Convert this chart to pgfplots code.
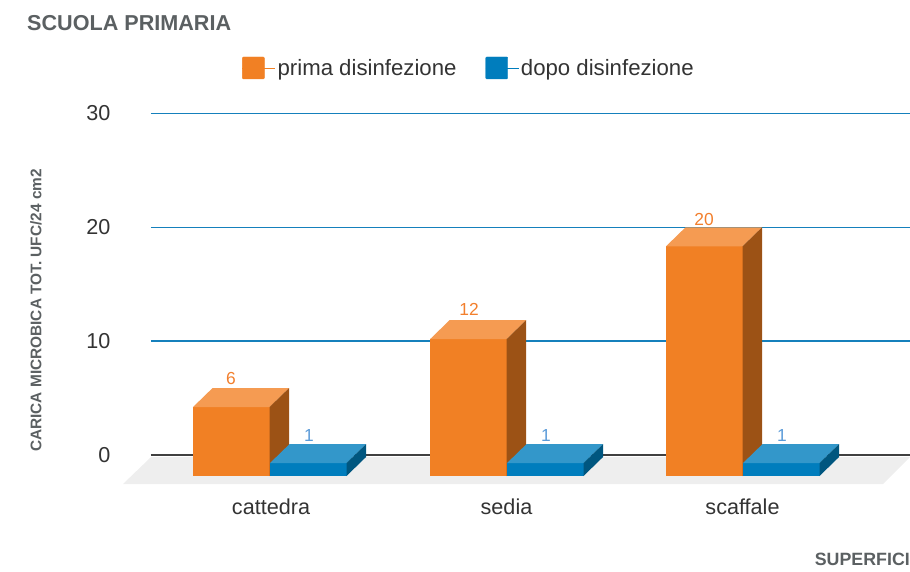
\documentclass[border=0pt]{standalone}
\usepackage{pgfplots}
\pgfplotsset{compat=1.18}
\usepackage{fontspec}
\setmainfont{Liberation Sans}
\definecolor{oF}{HTML}{F18024}
\definecolor{oT}{HTML}{F59B52}
\definecolor{oS}{HTML}{9C5215}
\definecolor{bF}{HTML}{007DBD}
\definecolor{bT}{HTML}{3397CA}
\definecolor{bS}{HTML}{00567F}
\definecolor{lO}{HTML}{F27F2D}
\definecolor{lB}{HTML}{5B9BD8}
\definecolor{grid}{HTML}{1580BC}
\definecolor{head}{HTML}{5B6062}
\definecolor{txt}{HTML}{333333}
\definecolor{floor}{HTML}{EEEEEE}
% front-left x, value at the back top edge, colours of front, top, side
\newcommand{\boxbar}[5]{%
  \pgfmathsetmacro{\xa}{#1}\pgfmathsetmacro{\xb}{#1+76.5}%
  \pgfmathsetmacro{\xc}{#1+19.5}\pgfmathsetmacro{\xd}{#1+96}%
  \pgfmathsetmacro{\yf}{#2-1.667}\pgfmathsetmacro{\yt}{#2}%
  \pgfmathsetmacro{\yb}{-1.842}\pgfmathsetmacro{\ybb}{-0.175}%
  \addplot[fill=#3,draw=none,forget plot] coordinates {(\xa,\yb) (\xb,\yb) (\xb,\yf) (\xa,\yf)} --cycle;
  \addplot[fill=#4,draw=none,forget plot] coordinates {(\xa,\yf) (\xb,\yf) (\xd,\yt) (\xc,\yt)} --cycle;
  \addplot[fill=#5,draw=none,forget plot] coordinates {(\xb,\yb) (\xd,\ybb) (\xd,\yt) (\xb,\yf)} --cycle;
}
\begin{document}
\begin{tikzpicture}
\useasboundingbox (-151pt,-82pt) rectangle (759pt,490pt);
\begin{axis}[
  scale only axis, width=759pt, height=376.5pt,
  xmin=151, xmax=910, ymin=-3.07, ymax=30,
  clip=false,
  axis line style={draw=none},
  major tick length=0pt,
  tick label style={font=\fontsize{21.6}{24}\selectfont, text=txt},
  /pgf/number format/assume math mode=true,
  ytick={0,10,20,30},
  ymajorgrids,
  grid style={draw=grid, line width=1.5pt},
  y tick label style={xshift=-37pt},
  x tick label style={yshift=-5pt},
  xtick={271,506.5,742.5},
  xticklabels={cattedra,sedia,scaffale},
  title={SCUOLA PRIMARIA},
  title style={at={(axis cs:27,36.77)},anchor=base west,inner sep=0pt,font=\bfseries\fontsize{21.6}{24}\selectfont,text=head},
  xlabel={SUPERFICI},
  xlabel style={at={(axis cs:910,-9.73)},anchor=base east,inner sep=0pt,font=\bfseries\fontsize{17.8}{20}\selectfont,text=head},
  ylabel={CARICA MICROBICA TOT. UFC/24 cm2},
  ylabel style={at={(axis cs:36,12.7)},anchor=center,inner sep=0pt,font=\bfseries\fontsize{15.4}{17}\selectfont,text=head},
  legend columns=2,
  legend style={at={(axis cs:242,34)},anchor=west,draw=none,fill=none,inner sep=0pt,
    font=\fontsize{22.2}{25}\selectfont, text=txt,
    /tikz/every even column/.append style={column sep=27pt}},
  legend image code/.code={\fill[#1,rounded corners=1pt] (0pt,-11pt) rectangle (22pt,11pt); \path (0pt,0pt) -- (33pt,0pt);},
]
\addlegendimage{oF}
\addlegendentry{prima disinfezione}
\addlegendimage{bF}
\addlegendentry{dopo disinfezione}
% zero line over the grid
\addplot[draw=black!75,line width=1.6pt,forget plot] coordinates {(151,0) (910,0)};
% floor
\addplot[fill=floor,draw=none,forget plot] coordinates {(123,-2.544) (883,-2.544) (910,-0.175) (151,-0.175)} --cycle;
\boxbar{193}{5.88}{oF}{oT}{oS}
\boxbar{270}{0.96}{bF}{bT}{bS}
\boxbar{430}{11.84}{oF}{oT}{oS}
\boxbar{507}{0.96}{bF}{bT}{bS}
\boxbar{666}{20}{oF}{oT}{oS}
\boxbar{743}{0.96}{bF}{bT}{bS}
\node[text=lO,font=\fontsize{17.4}{20}\selectfont] at (axis cs:231,6.7) {6};
\node[text=lO,font=\fontsize{17.4}{20}\selectfont] at (axis cs:469,12.75) {12};
\node[text=lO,font=\fontsize{17.4}{20}\selectfont] at (axis cs:704,20.7) {20};
\node[text=lB,font=\fontsize{17.4}{20}\selectfont] at (axis cs:309,1.75) {1};
\node[text=lB,font=\fontsize{17.4}{20}\selectfont] at (axis cs:546,1.75) {1};
\node[text=lB,font=\fontsize{17.4}{20}\selectfont] at (axis cs:782,1.75) {1};
\end{axis}
\end{tikzpicture}
\end{document}
